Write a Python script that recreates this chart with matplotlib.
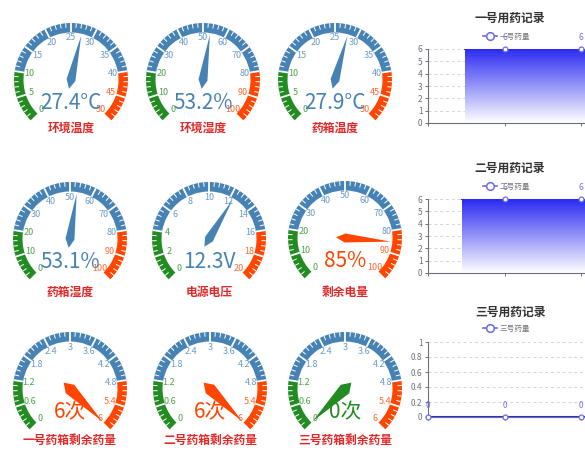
import numpy as np
import matplotlib
matplotlib.use("Agg")
import matplotlib.pyplot as plt
from matplotlib.patches import Wedge, Polygon
from matplotlib.lines import Line2D
from matplotlib.colors import LinearSegmentedColormap

plt.rcParams['font.family'] = ['Noto Sans CJK SC', 'DejaVu Sans']

# -------------------------
# Gauge data
# -------------------------
gauge_titles = ['环境温度', '环境湿度', '药箱温度',
                '药箱湿度', '电源电压', '剩余电量',
                '一号药箱剩余药量', '二号药箱剩余药量', '三号药箱剩余药量']
gauge_values = [27.4, 53.2, 27.9, 53.1, 12.3, 85, 6, 6, 0]
gauge_max = [50, 100, 50, 100, 20, 100, 6, 6, 6]
gauge_fmt = ['{:.1f}°C', '{:.1f}%', '{:.1f}°C',
             '{:.1f}%', '{:.1f}V', '{:.0f}%',
             '{:.0f}次', '{:.0f}次', '{:.0f}次']

band_stops = [0.2, 0.8, 1.0]
band_colors = ['#228b22', '#4682b4', '#ff4500']

# -------------------------
# Record chart data
# -------------------------
rec_titles = ['一号用药记录', '二号用药记录', '三号用药记录']
rec_names = ['一号药量', '二号药量', '三号药量']
rec_cats = [0, 1, 2, 3]
rec_values = [[6, 6, 6, 6],
              [6, 6, 6, 6],
              [0, 0, 0, 0]]
rec_yticks = [[0, 1, 2, 3, 4, 5, 6],
              [0, 1, 2, 3, 4, 5, 6],
              [0, 0.2, 0.4, 0.6, 0.8, 1]]
# series only partly drawn in the capture (line animation)
rec_visible_from = [0.48, 0.44, 0.0]

# -------------------------
# Layout (pixels)
# -------------------------
W, H = 585, 450
gauge_cx = [71, 203, 335, 70, 209, 345, 70, 210, 345]
gauge_cy = [80, 80, 80, 239, 239, 238, 389, 389, 389]
title_dy = [48, 48, 48, 53, 53, 54, 51, 51, 51]
needle_w = [4.5] * 6 + [6] * 3
R, BAND = 57, 9.5

rec_top = [49, 199, 342]
rec_bottom = [123, 273, 417]
rec_title_y = [18, 168, 312]
rec_legend_y = [37, 187, 329]
rec_left = 428

fig = plt.figure(figsize=(W / 100, H / 100), dpi=100)
fig.patch.set_facecolor('white')


def seg_color(f):
    for stop, col in zip(band_stops, band_colors):
        if f <= stop + 1e-9:
            return col
    return band_colors[-1]


def draw_gauge(i):
    cx, cy = gauge_cx[i], gauge_cy[i]
    ax = fig.add_axes([(cx - 70) / W, 1 - (cy + 70) / H, 140 / W, 140 / H])
    ax.set_xlim(-70, 70)
    ax.set_ylim(-70, 70)
    ax.axis('off')
    vmax = gauge_max[i]

    prev = 0
    for stop, col in zip(band_stops, band_colors):
        ax.add_patch(Wedge((0, 0), R, 225 - 270 * stop, 225 - 270 * prev,
                           width=BAND, color=col, lw=0))
        prev = stop

    # split lines and ticks
    for k in range(1, 50):
        a = np.radians(225 - 270 * k / 50)
        major = k % 5 == 0
        r0 = R - (BAND if major else 4.5)
        ax.plot([r0 * np.cos(a), R * np.cos(a)], [r0 * np.sin(a), R * np.sin(a)],
                color='white', lw=1.3 if major else 0.7, solid_capstyle='butt')

    # axis labels
    for k in range(11):
        f = k / 10
        a = np.radians(225 - 270 * f)
        ax.text(42 * np.cos(a), 42 * np.sin(a), f'{round(vmax * f, 1):g}',
                ha='center', va='center', fontsize=6.5, color=seg_color(f), alpha=0.8)

    # pointer
    v = gauge_values[i]
    f = v / vmax
    col = seg_color(f)
    a = np.radians(225 - 270 * f)
    w = needle_w[i]
    L = 0.8 * R
    pts = [(L * np.cos(a), L * np.sin(a)),
           (w * np.cos(a + np.pi / 2), w * np.sin(a + np.pi / 2)),
           (-9 * np.cos(a), -9 * np.sin(a)),
           (w * np.cos(a - np.pi / 2), w * np.sin(a - np.pi / 2))]
    ax.add_patch(Polygon(pts, closed=True, color=col, lw=0, zorder=5))

    ax.text(0, -23, gauge_fmt[i].format(v), ha='center', va='center',
            fontsize=15, color=col, zorder=4)
    ax.text(0, -title_dy[i], gauge_titles[i], ha='center', va='center',
            fontsize=8.5, fontweight='bold', color='#e02a2a')


for i in range(len(gauge_titles)):
    draw_gauge(i)

area_cmap = LinearSegmentedColormap.from_list('area', ['#ffffff', '#2a2af2'])
line_col = '#2c2cf0'
point_col = '#6b6be6'
axis_col = '#6e7079'


def draw_record(j):
    top, bottom = rec_top[j], rec_bottom[j]
    ax = fig.add_axes([rec_left / W, 1 - bottom / H, (W - rec_left) / W, (bottom - top) / H])
    yt = rec_yticks[j]
    ymax = yt[-1]
    xs = np.array(rec_cats, dtype=float)
    ys = np.array(rec_values[j], dtype=float)
    start = rec_visible_from[j]
    mask = xs >= start
    px = np.r_[start, xs[mask]]
    py = np.r_[np.interp(start, xs, ys), ys[mask]]

    # gradient area under the line
    if py.max() > 0:
        grad = np.linspace(0, 1, 256).reshape(-1, 1)
        im = ax.imshow(grad, extent=[xs[0], xs[-1], 0, ymax], origin='lower',
                       aspect='auto', cmap=area_cmap, zorder=1)
        poly = Polygon(np.column_stack([np.r_[px, px[-1], px[0]], np.r_[py, 0, 0]]),
                       closed=True, fc='none', ec='none', transform=ax.transData)
        ax.add_patch(poly)
        im.set_clip_path(poly)

    ax.plot(px, py, color=line_col, lw=1.5, zorder=3)
    ax.plot(xs[mask], ys[mask], ls='none', marker='o', ms=3.5, mfc='white',
            mec=point_col, mew=0.9, zorder=4, clip_on=False)
    for x, y in zip(xs[mask], ys[mask]):
        if x <= 2.05:
            ax.annotate(f'{y:g}', (x, y), xytext=(0, 5), textcoords='offset points',
                        ha='center', va='bottom', fontsize=6, color='#7272e2',
                        annotation_clip=False)

    ax.set_xlim(0, 2.05)
    ax.set_ylim(0, ymax)
    ax.set_yticks(yt)
    ax.set_yticklabels([f'{t:g}' for t in yt])
    ax.set_xticks([0, 1, 2])
    ax.set_xticklabels([])
    for t in yt[1:]:
        ax.axhline(t, color='#d6d6d6', lw=0.7, ls=(0, (3, 3)), zorder=0)
    for s in ['top', 'right']:
        ax.spines[s].set_visible(False)
    for s in ['left', 'bottom']:
        ax.spines[s].set_color(axis_col)
        ax.spines[s].set_linewidth(0.8)
    ax.tick_params(axis='both', colors=axis_col, labelsize=6, length=2.5, width=0.7,
                   pad=1.5)
    ax.set_facecolor('none')

    handle = Line2D([], [], color=point_col, lw=1.2, marker='o', ms=5.5,
                    mfc='white', mec=point_col, mew=1.1)
    ax.legend([handle], [rec_names[j]], loc='center',
              bbox_to_anchor=(0.5, 1 + (top - rec_legend_y[j]) / (bottom - top)),
              frameon=False, fontsize=5.5, handlelength=1.8, handletextpad=0.4,
              labelcolor='#777777')
    fig.text((rec_left + 82) / W, 1 - rec_title_y[j] / H, rec_titles[j],
             ha='center', va='center', fontsize=8.5, fontweight='bold', color='#333333')


for j in range(len(rec_titles)):
    draw_record(j)

fig.savefig('out.png', dpi=100, facecolor='white')
